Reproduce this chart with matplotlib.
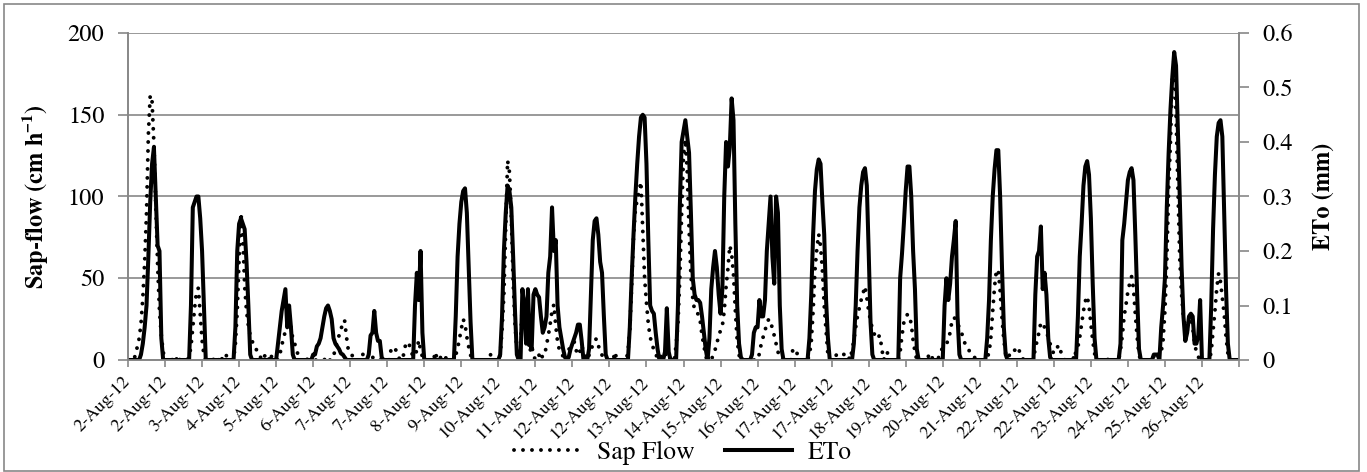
import numpy as np
import matplotlib
matplotlib.use('Agg')
import matplotlib.pyplot as plt
from matplotlib.patches import Rectangle

SERIF = ['TeX Gyre Termes', 'Liberation Serif', 'DejaVu Serif']
plt.rcParams['font.family'] = SERIF
plt.rcParams['mathtext.fontset'] = 'custom'
plt.rcParams['mathtext.rm'] = 'TeX Gyre Termes'
plt.rcParams['mathtext.bf'] = 'TeX Gyre Termes:bold'

# hourly readings, one row per day (2 Aug 2012 ... 26 Aug 2012), hours 0-23
sap_flow = [
    0, 0, 0, 0, 3, 8, 13, 22, 38, 60, 90, 138, 162, 158, 132, 95, 58, 30, 15, 5, 0, 0, 0, 2,
    0, 2, 0, 3, 0, 0, 0, 0, 0, 2, 8, 20, 32, 42, 44, 28, 12, 3, 0, 0, 0, 0, 0, 2,
    0, 0, 3, 0, 0, 3, 0, 0, 0, 0, 10, 30, 62, 90, 75, 45, 30, 21, 15, 12, 8, 7, 5, 4,
    0, 0, 3, 0, 0, 4, 0, 0, 0, 0, 3, 9, 13, 18, 22, 26, 20, 13, 10, 7, 2, 0, 0, 0,
    2, 0, 0, 0, 0, 0, 0, 0, 0, 0, 0, 2, 0, 0, 0, 3, 6, 12, 15, 18, 24, 24, 14, 6,
    5, 3, 0, 0, 0, 0, 0, 4, 0, 0, 0, 0, 2, 0, 0, 0, 0, 0, 0, 0, 0, 0, 6, 7,
    8, 5, 2, 0, 0, 4, 10, 8, 9, 5, 2, 3, 6, 12, 6, 2, 0, 0, 0, 0, 0, 0, 5, 0,
    0, 2, 0, 0, 2, 0, 0, 0, 0, 3, 7, 13, 19, 25, 22, 14, 8, 3, 0, 0, 0, 0, 0, 0,
    0, 0, 0, 0, 4, 0, 0, 0, 0, 3, 18, 40, 80, 122, 115, 88, 48, 22, 6, 0, 10, 35, 40, 22,
    13, 5, 9, 3, 0, 0, 3, 0, 3, 3, 9, 15, 22, 30, 34, 21, 11, 6, 5, 2, 2, 0, 6, 9,
    10, 11, 6, 3, 5, 9, 5, 3, 0, 3, 5, 10, 12, 13, 9, 5, 3, 0, 0, 0, 0, 0, 0, 5,
    0, 0, 0, 0, 0, 0, 5, 18, 45, 75, 92, 98, 103, 109, 80, 50, 35, 22, 14, 10, 6, 3, 2, 0,
    3, 2, 4, 3, 0, 2, 0, 0, 9, 22, 50, 90, 125, 135, 115, 80, 52, 38, 30, 29, 28, 24, 15, 9,
    2, 0, 0, 0, 3, 6, 10, 15, 18, 21, 30, 45, 56, 70, 65, 52, 30, 12, 3, 0, 0, 0, 0, 0,
    0, 0, 0, 0, 0, 4, 10, 14, 18, 22, 25, 24, 19, 15, 10, 5, 2, 0, 0, 0, 0, 0, 0, 6,
    7, 6, 0, 0, 0, 0, 0, 0, 3, 11, 30, 55, 68, 77, 70, 55, 33, 18, 3, 0, 0, 0, 2, 4,
    4, 4, 4, 3, 4, 2, 0, 6, 12, 20, 27, 32, 37, 41, 45, 38, 30, 24, 19, 16, 13, 14, 15, 8,
    0, 2, 5, 0, 0, 0, 0, 0, 0, 5, 15, 23, 26, 28, 27, 22, 12, 5, 0, 0, 0, 0, 0, 2,
    3, 0, 2, 0, 0, 0, 2, 6, 7, 8, 10, 12, 17, 24, 26, 25, 22, 20, 17, 14, 10, 8, 6, 5,
    4, 2, 0, 0, 0, 0, 0, 0, 2, 4, 14, 30, 45, 55, 55, 42, 26, 12, 4, 1, 3, 6, 6, 6,
    5, 7, 3, 1, 0, 0, 0, 0, 0, 1, 7, 12, 17, 23, 22, 20, 17, 14, 10, 6, 4, 6, 8, 9,
    4, 2, 0, 2, 0, 0, 3, 0, 6, 8, 14, 22, 30, 36, 39, 33, 22, 12, 4, 0, 0, 0, 0, 0,
    0, 0, 2, 0, 0, 0, 0, 0, 6, 15, 27, 34, 42, 47, 51, 44, 28, 14, 3, 0, 0, 0, 0, 0,
    0, 2, 2, 2, 0, 2, 5, 12, 30, 60, 105, 134, 172, 185, 150, 105, 62, 40, 26, 21, 18, 24, 26, 20,
    10, 5, 2, 0, 0, 0, 0, 0, 0, 5, 18, 30, 44, 53, 48, 38, 28, 14, 4, 0, 0, 0, 0, 0,
]

eto = [
    0, 0, 0, 0, 0, 0, 0, 0.01, 0.03, 0.06, 0.10, 0.19, 0.29, 0.36, 0.39, 0.30, 0.21, 0.20, 0.04, 0, 0, 0, 0, 0,
    0, 0, 0, 0, 0, 0, 0, 0, 0, 0, 0.10, 0.28, 0.29, 0.30, 0.30, 0.26, 0.20, 0.10, 0, 0, 0, 0, 0, 0,
    0, 0, 0, 0, 0, 0, 0, 0, 0, 0, 0.06, 0.20, 0.25, 0.26, 0.25, 0.24, 0.18, 0.10, 0.01, 0, 0, 0, 0, 0,
    0, 0, 0, 0, 0, 0, 0, 0, 0, 0.03, 0.06, 0.09, 0.11, 0.13, 0.06, 0.10, 0.06, 0.01, 0, 0, 0, 0, 0, 0,
    0, 0, 0, 0, 0.01, 0.01, 0.025, 0.03, 0.04, 0.06, 0.08, 0.095, 0.10, 0.09, 0.075, 0.04, 0.03, 0.025, 0.02, 0.012, 0.01, 0.005, 0, 0,
    0, 0, 0, 0, 0, 0, 0, 0, 0, 0, 0.01, 0.045, 0.05, 0.09, 0.05, 0.035, 0.035, 0.005, 0, 0, 0, 0, 0, 0,
    0, 0, 0, 0, 0, 0, 0, 0, 0, 0, 0, 0.10, 0.16, 0.11, 0.20, 0.05, 0, 0, 0, 0, 0, 0, 0, 0,
    0, 0, 0, 0, 0, 0, 0, 0, 0, 0.08, 0.19, 0.25, 0.29, 0.31, 0.315, 0.27, 0.17, 0.07, 0, 0, 0, 0, 0, 0,
    0, 0, 0, 0, 0, 0, 0, 0, 0, 0.01, 0.08, 0.20, 0.27, 0.32, 0.31, 0.28, 0.19, 0.09, 0.01, 0, 0, 0.13, 0.10, 0.03,
    0.13, 0.03, 0.02, 0.12, 0.13, 0.12, 0.115, 0.08, 0.05, 0.06, 0.08, 0.16, 0.19, 0.28, 0.20, 0.22, 0.10, 0.06, 0.04, 0.02, 0.005, 0, 0.005, 0.02,
    0.03, 0.04, 0.05, 0.065, 0.065, 0.035, 0, 0, 0, 0.02, 0.12, 0.22, 0.255, 0.26, 0.23, 0.18, 0.16, 0.08, 0.01, 0, 0, 0, 0, 0,
    0, 0, 0, 0, 0, 0, 0, 0.06, 0.15, 0.23, 0.30, 0.36, 0.41, 0.445, 0.45, 0.445, 0.36, 0.22, 0.10, 0.09, 0.085, 0.05, 0.02, 0,
    0, 0, 0.015, 0.095, 0.015, 0, 0, 0, 0, 0.10, 0.28, 0.40, 0.42, 0.44, 0.41, 0.38, 0.27, 0.15, 0.12, 0.11, 0.11, 0.105, 0.08, 0.05,
    0.02, 0, 0.04, 0.13, 0.17, 0.20, 0.17, 0.12, 0.085, 0.13, 0.30, 0.40, 0.355, 0.39, 0.48, 0.44, 0.25, 0.10, 0.03, 0.005, 0, 0, 0, 0,
    0, 0.01, 0.05, 0.06, 0.06, 0.11, 0.08, 0.08, 0.11, 0.20, 0.25, 0.30, 0.19, 0.14, 0.30, 0.27, 0.10, 0.02, 0, 0, 0, 0, 0, 0,
    0, 0, 0, 0, 0, 0, 0, 0, 0.04, 0.12, 0.23, 0.31, 0.35, 0.368, 0.36, 0.29, 0.23, 0.11, 0.04, 0, 0, 0, 0, 0,
    0, 0, 0, 0, 0, 0, 0, 0, 0.03, 0.10, 0.20, 0.28, 0.32, 0.345, 0.352, 0.32, 0.20, 0.07, 0.01, 0, 0, 0, 0, 0,
    0, 0, 0, 0, 0, 0, 0, 0, 0, 0.15, 0.195, 0.25, 0.31, 0.355, 0.355, 0.30, 0.20, 0.13, 0.02, 0, 0, 0, 0, 0,
    0, 0, 0, 0, 0, 0, 0, 0, 0, 0.10, 0.15, 0.11, 0.14, 0.19, 0.22, 0.255, 0.08, 0.01, 0, 0, 0, 0, 0, 0,
    0, 0, 0, 0, 0, 0, 0, 0, 0.04, 0.11, 0.22, 0.30, 0.35, 0.385, 0.385, 0.30, 0.17, 0.06, 0.01, 0, 0, 0, 0, 0,
    0, 0, 0, 0, 0, 0, 0, 0, 0, 0, 0.12, 0.19, 0.20, 0.245, 0.13, 0.16, 0.12, 0.04, 0.005, 0, 0, 0, 0, 0,
    0, 0, 0, 0, 0, 0, 0, 0, 0, 0.08, 0.19, 0.25, 0.32, 0.355, 0.365, 0.34, 0.26, 0.14, 0.04, 0, 0, 0, 0, 0,
    0, 0, 0, 0, 0, 0, 0, 0, 0.03, 0.22, 0.25, 0.29, 0.33, 0.345, 0.352, 0.33, 0.23, 0.12, 0.02, 0, 0, 0, 0, 0,
    0, 0, 0.01, 0.01, 0.01, 0, 0.06, 0.10, 0.15, 0.28, 0.38, 0.46, 0.52, 0.565, 0.54, 0.42, 0.30, 0.17, 0.08, 0.035, 0.05, 0.08, 0.085, 0.08,
    0.03, 0.03, 0.045, 0.11, 0, 0, 0, 0, 0, 0.10, 0.24, 0.34, 0.41, 0.435, 0.44, 0.41, 0.27, 0.13, 0.03, 0, 0, 0, 0, 0,
]

# a label every 20 readings, as the spreadsheet axis did
date_labels = ['2-Aug-12', '2-Aug-12', '3-Aug-12', '4-Aug-12', '5-Aug-12', '6-Aug-12',
               '7-Aug-12', '7-Aug-12', '8-Aug-12', '9-Aug-12', '10-Aug-12', '11-Aug-12',
               '12-Aug-12', '12-Aug-12', '13-Aug-12', '14-Aug-12', '15-Aug-12', '16-Aug-12',
               '17-Aug-12', '17-Aug-12', '18-Aug-12', '19-Aug-12', '20-Aug-12', '21-Aug-12',
               '22-Aug-12', '22-Aug-12', '23-Aug-12', '24-Aug-12', '25-Aug-12', '26-Aug-12']
label_step = 20

sap_ticks = [0, 50, 100, 150, 200]
eto_ticks = [0, 0.1, 0.2, 0.3, 0.4, 0.5, 0.6]

GRAY = '#878787'
W, H = 1367, 472


def draw():
    fig = plt.figure(figsize=(W / 100, H / 100), dpi=100)
    ax = fig.add_axes([128 / W, 1 - 360 / H, (1239 - 128) / W, (360 - 33) / H])
    ax2 = ax.twinx()

    x = np.arange(len(sap_flow))
    l1, = ax.plot(x, sap_flow, color='black', lw=2.8, ls=(0, (0.01, 2.3)),
                  dash_capstyle='round', label='Sap Flow')
    l2, = ax2.plot(x, eto, color='black', lw=2.9, solid_joinstyle='round', label='ETo')

    ax.set_xlim(0, len(sap_flow))
    ax.set_ylim(0, 200)
    ax2.set_ylim(0, 0.6)
    ax.set_yticks(sap_ticks)
    ax2.set_yticks(eto_ticks)
    ax2.set_yticklabels(['0' if v == 0 else '%.1f' % v for v in eto_ticks])

    ticks = list(range(0, len(sap_flow) + 1, label_step))
    ax.set_xticks(ticks)
    ax.set_xticklabels(date_labels + [''] * (len(ticks) - len(date_labels)),
                       rotation=45, ha='right', va='center', rotation_mode='anchor')

    ax.set_axisbelow(True)
    ax.grid(axis='y', color=GRAY, lw=1.2)

    for a in (ax, ax2):
        a.spines['top'].set_visible(False)
        for s in ('left', 'right', 'bottom'):
            a.spines[s].set_color(GRAY)
            a.spines[s].set_linewidth(1.2)
    ax.tick_params(axis='y', direction='out', length=7, width=1.2, color=GRAY,
                   labelsize=17.5, pad=10)
    ax2.tick_params(axis='y', direction='out', length=7, width=1.2, color=GRAY,
                    labelsize=17.5, pad=10)
    ax.tick_params(axis='x', direction='out', length=5, width=1.2, color=GRAY,
                   labelsize=13, pad=9)

    ax.set_ylabel('Sap-flow (cm h$^{\\mathbf{-1}}$)', fontsize=17.5, fontweight='bold', labelpad=12)
    ax2.set_ylabel('ETo (mm)', fontsize=17.5, fontweight='bold', labelpad=14)

    leg = fig.legend([l1, l2], ['Sap Flow', 'ETo'], loc='center', ncol=2, frameon=False,
                     bbox_to_anchor=(683 / W, 1 - 453 / H), fontsize=18.5,
                     handlelength=2.6, handletextpad=0.6, columnspacing=1.2)
    for t in leg.get_texts():
        t.set_fontfamily('TeX Gyre Termes')
        t.set_fontsize(18.5)

    fig.patches.append(Rectangle((4 / W, 1 / H), (1359 - 4) / W, (468 - 1) / H,
                                 transform=fig.transFigure, fill=False,
                                 edgecolor=GRAY, lw=1.2))

    fig.savefig('out.png', dpi=100)


if __name__ == '__main__':
    draw()
